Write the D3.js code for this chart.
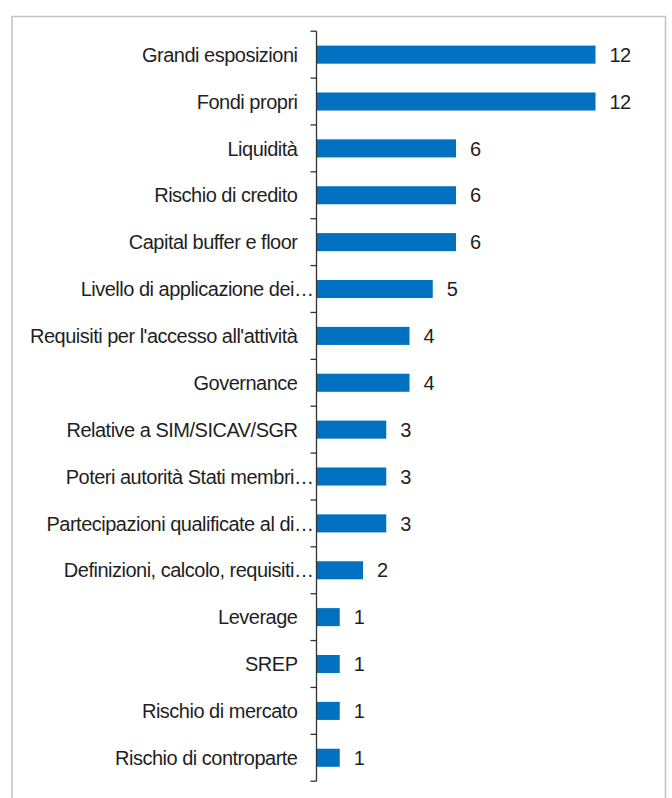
<!DOCTYPE html>
<html>
<head>
<meta charset="utf-8">
<script src="https://cdn.jsdelivr.net/npm/d3@7"></script>
<style>
  html, body { margin: 0; padding: 0; background: #fff; }
  svg { display: block; }
  text { font-family: "Liberation Sans", Arial, sans-serif; }
</style>
</head>
<body>
<svg id="chart" width="672" height="798"></svg>
<script>
// Categories (top to bottom) and number of items per category
const categories = [
  "Grandi esposizioni",
  "Fondi propri",
  "Liquidità",
  "Rischio di credito",
  "Capital buffer e floor",
  "Livello di applicazione dei…",
  "Requisiti per l'accesso all'attività",
  "Governance",
  "Relative a SIM/SICAV/SGR",
  "Poteri autorità Stati membri…",
  "Partecipazioni qualificate al di…",
  "Definizioni, calcolo, requisiti…",
  "Leverage",
  "SREP",
  "Rischio di mercato",
  "Rischio di controparte"
];
const values = [12, 12, 6, 6, 6, 5, 4, 4, 3, 3, 3, 2, 1, 1, 1, 1];

const svg = d3.select("#chart");

// outer frame
svg.append("path")
  .attr("d", "M12,798 V16.5 H665.5 V798")
  .attr("fill", "none")
  .attr("stroke", "#c4c4c4")
  .attr("stroke-width", 1.6);

const x0 = 316.5;
const yTop = 31.2, yBottom = 781.2;
const x = d3.scaleLinear().domain([0, 12]).range([x0, 595.5]);
const y = d3.scaleBand().domain(categories).range([yTop, yBottom]).paddingInner(0.615).paddingOuter(0.3075);

// bars
svg.append("g").selectAll("rect")
  .data(categories)
  .join("rect")
  .attr("x", x(0))
  .attr("y", d => y(d))
  .attr("width", (d, i) => x(values[i]) - x(0))
  .attr("height", y.bandwidth())
  .attr("fill", "#0070C0");

// category axis: vertical line with ticks between categories
const axis = svg.append("g").attr("stroke", "#333").attr("stroke-width", 1.3);
axis.append("line")
  .attr("x1", x0).attr("x2", x0)
  .attr("y1", yTop).attr("y2", yBottom);
const bounds = d3.range(categories.length + 1).map(i => yTop + i * y.step());
axis.selectAll("line.tick")
  .data(bounds)
  .join("line")
  .attr("class", "tick")
  .attr("x1", x0 - 6).attr("x2", x0)
  .attr("y1", d => d).attr("y2", d => d);

// category labels
svg.append("g").selectAll("text")
  .data(categories)
  .join("text")
  .attr("x", d => d.endsWith("…") ? x0 - 3 : x0 - 19)
  .attr("y", d => y(d) + y.bandwidth() / 2)
  .attr("dy", "0.36em")
  .attr("text-anchor", "end")
  .attr("font-size", 20)
  .attr("letter-spacing", -0.5)
  .attr("fill", "#1f1f1f")
  .text(d => d);

// value labels
svg.append("g").selectAll("text")
  .data(categories)
  .join("text")
  .attr("x", (d, i) => x(values[i]) + 14)
  .attr("y", d => y(d) + y.bandwidth() / 2)
  .attr("dy", "0.36em")
  .attr("font-size", 20)
  .attr("letter-spacing", -0.5)
  .attr("fill", "#1f1f1f")
  .text((d, i) => values[i]);
</script>
</body>
</html>
